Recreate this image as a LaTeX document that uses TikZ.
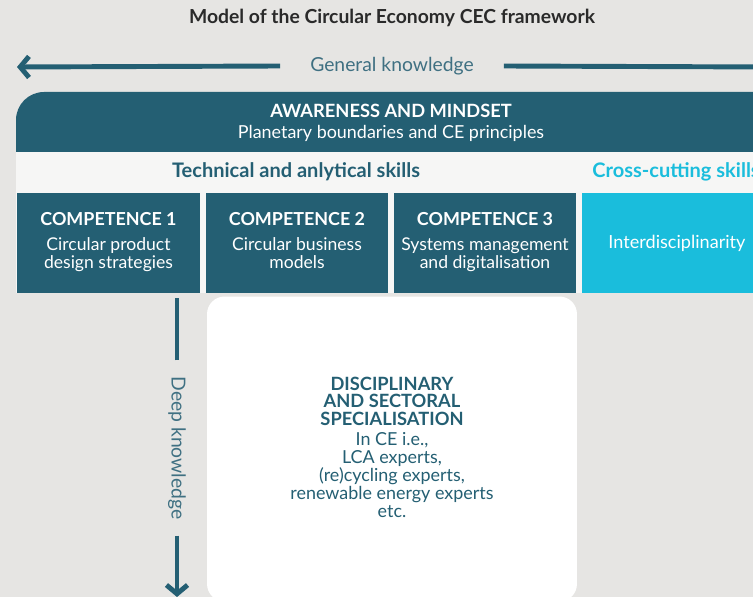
\documentclass[tikz,border=0pt]{standalone}
\usepackage{fontspec}
\setmainfont{Lato}
\usetikzlibrary{arrows.meta}

\definecolor{cecbg}{HTML}{E6E5E3}
\definecolor{cecteal}{HTML}{245F73}
\definecolor{ceccyan}{HTML}{1ABDDC}
\definecolor{cecband}{HTML}{F6F6F5}
\definecolor{cecaxis}{HTML}{3F7082}
\definecolor{cectitle}{HTML}{2A2A2A}

\tikzset{
  axis/.style={line width=2.8pt, cecteal},
  axistip/.style={-{Straight Barb[length=5pt, width=12pt]}},
  axislabel/.style={text=cecaxis, font=\fontsize{11}{13}\selectfont, inner xsep=17pt},
  compbox/.style={fill=cecteal, text=white, align=center, inner sep=0pt,
    minimum width=3.66cm, minimum height=2cm, font=\fontsize{10}{10.2}\selectfont},
  bandtext/.style={text=cecteal, font=\bfseries\fontsize{11.4}{13}\selectfont},
}

\begin{document}
\begin{tikzpicture}[x=0.02cm, y=-0.02cm]

    \useasboundingbox (0,0) rectangle (753,597);
    \clip (0,0) rectangle (753,597);
    \fill[cecbg] (0,0) rectangle (753,597);

    \node[text=cectitle, font=\bfseries\fontsize{11}{13}\selectfont] (title) at (392,18)
        {Model of the Circular Economy CEC framework};

    % general knowledge, left to right
    \node[axislabel] (general) at (392,66) {General knowledge};
    \coordinate (gleft) at (17,67);
    \coordinate (gright) at (767,67);
    \draw[axis, axistip] (general.west) -- (gleft);
    \draw[axis, axistip] (general.east) -- (gright);

    % top band and skills band
    \fill[cecteal] (16,152) -- (16,120) arc[start angle=180, end angle=270, radius=28] -- (790,92) -- (790,152) -- cycle;
    \node[text=white, align=center, font=\fontsize{10.2}{12}\selectfont] (awareness) at (391,123)
        {\textbf{\fontsize{10.4}{12}\selectfont AWARENESS AND MINDSET}\\Planetary boundaries and CE principles};
    \fill[cecband] (16,152) rectangle (790,293);

    \node[bandtext] (technical) at (296,172) {Technical and anlytical skills};
    \node[bandtext, text=ceccyan, anchor=west, inner xsep=0pt] (crosscut) at (592,172) {Cross-cutting skills};

    \node[compbox] (comp1) at (108.5,243) {\textbf{\fontsize{10.2}{13}\selectfont COMPETENCE 1}\\[4pt]Circular product\\design strategies\strut};
    \node[compbox] (comp2) at (297,243) {\textbf{\fontsize{10.2}{13}\selectfont COMPETENCE 2}\\[4pt]Circular business\\models\strut};
    \node[compbox] (comp3) at (485,243) {\textbf{\fontsize{10.2}{13}\selectfont COMPETENCE 3}\\[4pt]Systems management\\and digitalisation\strut};
    \node[compbox, fill=ceccyan, minimum width=3.8cm, font=\fontsize{10.3}{12}\selectfont] (interdisc) at (677,243) {Interdisciplinarity};

    % specialisation
    \node[fill=white, rounded corners=0.35cm, minimum width=7.4cm, minimum height=6.1cm] (specbox) at (392,449) {};
    \node[text=cecteal, align=center, font=\fontsize{10.2}{10.2}\selectfont] (special) at (392,447)
        {\textbf{\fontsize{10.4}{10}\selectfont DISCIPLINARY}\\
         \textbf{\fontsize{10.4}{10}\selectfont AND SECTORAL}\\
         \textbf{\fontsize{10.4}{10}\selectfont SPECIALISATION}\\[1pt]
         In CE i.e.,\\LCA experts,\\(re)cycling experts,\\renewable energy experts\\etc.};

    % deep knowledge, top to bottom
    \node[axislabel, rotate=-90, inner xsep=9pt] (deep) at (177,448) {Deep knowledge};
    \coordinate (dtop) at (177,298);
    \coordinate (dbot) at (177,597);
    \draw[axis] (deep.west) -- (dtop);
    \draw[axis, axistip] (deep.east) -- (dbot);

\end{tikzpicture}
\end{document}
